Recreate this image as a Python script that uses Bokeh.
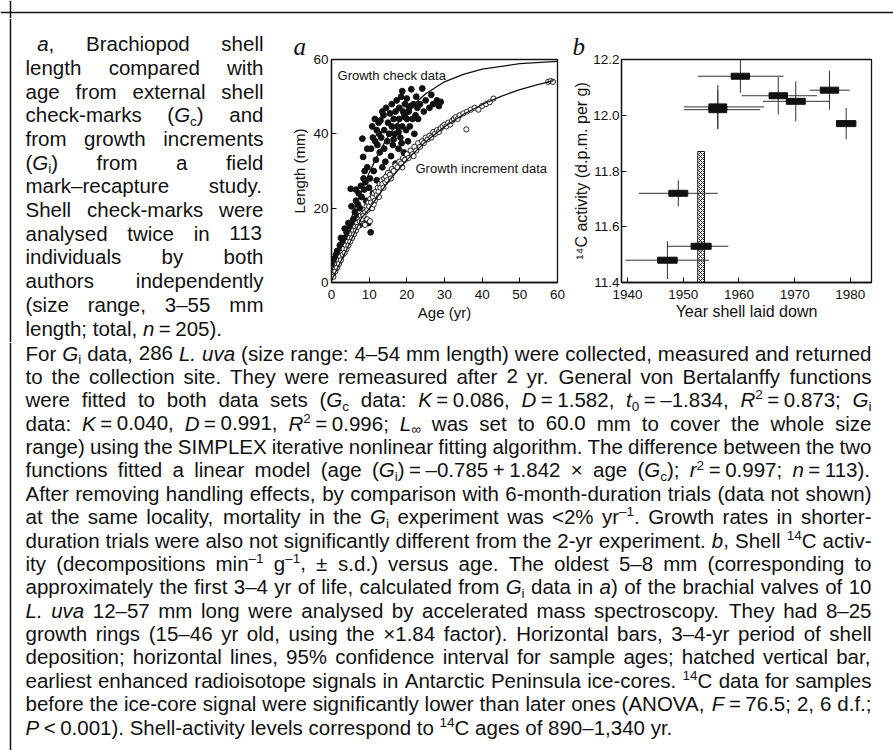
from bokeh.plotting import figure
from bokeh.models import ColumnDataSource, Range1d, FixedTicker, Span, PrintfTickFormatter
from bokeh.layouts import column, row
from bokeh.embed import file_html
from bokeh.resources import INLINE
from bokeh.core.properties import value

FONT = "Liberation Sans"
SERIF = "Liberation Serif"

# ---------------- data: panel a ----------------
gc_age = [0.3, 0.5, 0.5, 0.8, 1.0, 1.0, 1.2, 1.5, 0.2, 1.8, 2.0, 2.2, 2.5, 2.8, 3.0, 3.2, 3.5, 3.8, 4.0, 4.2,
          4.5, 4.8, 5.0, 5.1, 5.3, 5.5, 5.8, 6.0, 6.2, 6.5, 6.8, 7.0, 7.2, 7.5, 7.8, 7.5, 8.0, 8.2, 8.4, 8.5,
          8.7, 8.8, 9.0, 9.0, 9.2, 9.5, 9.8, 10.0, 10.0, 10.4, 10.2, 10.5, 10.8, 11.0, 11.0, 11.2, 11.5, 11.8, 12.0, 12.0,
          12.2, 12.5, 12.8, 13.0, 13.2, 13.5, 13.8, 14.0, 14.0, 14.3, 14.5, 14.8, 15.0, 15.0, 15.3, 15.5, 15.8, 16.0, 16.0, 16.3,
          16.5, 16.8, 17.0, 17.0, 17.3, 17.5, 17.8, 18.0, 18.0, 18.3, 18.5, 18.8, 18.8, 19.0, 19.2, 19.5, 19.8, 20.0, 20.0, 20.3,
          20.5, 20.8, 21.0, 21.2, 21.5, 21.8, 22.0, 22.3, 22.5, 22.8, 23.0, 23.5, 24.1, 24.5, 25.0, 26.0, 27.0, 28.0, 29.0, 28.5,
          26.5, 1.5, 2.5, 3.5, 6.5, 9.5, 13.5, 16.5, 19.5, 17.8, 18.6, 19.4, 20.6, 11.6, 12.6]
gc_len = [2.0, 4.0, 5.5, 6.5, 3.5, 5.0, 7.5, 4.5, 6.0, 6.0, 8.0, 10.0, 7.0, 9.0, 11.0, 10.5, 12.0, 9.0, 13.5, 11.0,
          16.0, 12.5, 15.0, 25.2, 20.5, 14.0, 17.0, 16.0, 19.0, 22.0, 18.0, 21.0, 24.0, 20.0, 26.0, 15.5, 23.0, 38.7, 33.8, 28.0,
          25.0, 30.0, 27.0, 17.0, 22.0, 31.0, 16.0, 20.0, 25.5, 13.5, 28.0, 36.0, 42.0, 39.0, 24.0, 30.0, 44.0, 33.0, 41.0, 27.5,
          37.0, 43.0, 35.0, 43.6, 39.0, 31.0, 45.0, 41.0, 36.0, 32.5, 47.0, 38.0, 43.0, 29.0, 40.0, 45.5, 34.0, 42.0, 48.0, 37.0,
          44.0, 40.0, 46.0, 32.0, 49.0, 42.0, 36.0, 47.0, 44.0, 39.0, 50.0, 51.5, 42.0, 46.0, 35.0, 48.0, 41.0, 44.0, 49.5, 38.0,
          46.0, 42.0, 47.5, 52.0, 44.0, 48.0, 40.0, 45.0, 50.0, 47.0, 44.0, 48.0, 52.2, 46.0, 49.0, 47.0, 48.0, 49.0, 48.6, 47.5,
          50.5, 8.5, 12.0, 14.5, 25.0, 36.0, 46.0, 38.5, 44.5, 40.5, 37.5, 45.0, 47.0, 38.0, 40.0]

gi_age = [0.0, 0.3, 0.5, 0.8, 1.0, 1.2, 1.5, 1.8, 2.0, 2.3, 2.5, 2.8, 3.0, 3.2, 3.5, 3.8, 4.0, 4.3, 4.5, 4.8,
          5.0, 5.3, 5.5, 5.8, 6.0, 6.3, 6.5, 6.8, 7.0, 7.3, 7.5, 7.8, 8.0, 8.3, 8.5, 8.8, 9.0, 9.3, 9.5, 9.8,
          10.0, 10.3, 10.5, 10.8, 11.0, 11.3, 11.5, 11.8, 12.0, 12.3, 12.5, 12.8, 13.0, 13.3, 13.5, 13.8, 14.0, 14.3, 14.5, 14.8,
          15.0, 15.5, 16.0, 16.5, 17.0, 17.5, 18.0, 18.5, 19.0, 19.5, 20.0, 20.5, 21.0, 21.5, 22.0, 22.5, 23.0, 23.5, 24.0, 24.5,
          25.0, 25.5, 26.0, 26.5, 27.0, 27.5, 28.0, 28.5, 29.0, 29.5, 30.0, 30.5, 31.0, 31.5, 32.0, 32.5, 33.0, 33.5, 34.0, 35.0,
          35.8, 36.0, 37.0, 38.0, 39.0, 40.0, 41.0, 42.0, 43.0, 57.5, 58.2, 58.8, 9.5, 10.2, 8.9, 11.2, 12.6, 15.8, 18.8, 21.8]
gi_len = [2.0, 3.5, 1.5, 4.0, 3.0, 5.0, 4.0, 6.0, 5.0, 7.0, 6.0, 8.0, 7.5, 9.0, 8.0, 10.0, 9.0, 11.0, 10.0, 12.0,
          11.0, 13.0, 12.0, 14.0, 13.0, 15.0, 14.0, 16.0, 15.0, 17.0, 16.5, 18.0, 17.0, 18.5, 18.0, 19.5, 19.0, 20.5, 19.5, 21.5,
          20.5, 22.5, 21.5, 20.0, 23.0, 24.0, 22.0, 24.5, 23.5, 25.5, 24.5, 26.5, 25.5, 27.5, 26.5, 25.5, 28.0, 27.0, 28.5, 27.5,
          29.5, 29.0, 30.5, 30.0, 31.5, 31.0, 32.5, 32.0, 33.5, 33.0, 34.5, 33.5, 35.5, 34.5, 36.5, 35.5, 37.5, 36.5, 38.0, 37.5,
          39.0, 38.5, 39.5, 39.0, 40.5, 40.0, 41.0, 40.5, 41.5, 42.0, 42.5, 42.0, 43.0, 42.5, 43.5, 44.0, 44.5, 44.0, 45.0, 45.5,
          41.2, 46.0, 46.5, 47.0, 46.5, 47.5, 48.0, 48.5, 49.5, 54.0, 54.2, 54.0, 17.0, 16.5, 15.5, 21.0, 23.0, 28.0, 31.0, 34.0]

gc_fit_age = [0, 2, 4, 6, 8, 10, 12, 15, 20, 25, 30, 35, 40, 50, 60]
gc_fit_len = [3.0, 8.0, 13.8, 19.4, 24.7, 29.5, 33.8, 39.3, 46.2, 50.8, 54.0, 56.0, 57.4, 58.9, 59.5]
gi_fit_age = [0, 2, 5, 8, 10, 15, 20, 25, 30, 35, 40, 45, 50, 55, 59]
gi_fit_len = [0.5, 4.7, 10.9, 17.4, 19.8, 27.1, 33.0, 37.9, 41.9, 45.2, 47.9, 50.1, 51.9, 53.3, 54.3]

# ---------------- data: panel b ----------------
yr_start = [1945.4, 1947.4, 1951.4, 1954.6, 1954.6, 1958.6, 1965.4, 1968.5, 1974.6, 1977.5]
yr_end   = [1948.9, 1950.8, 1955.0, 1957.8, 1957.8, 1961.9, 1968.7, 1971.9, 1977.9, 1981.0]
act      = [11.48, 11.72, 11.53, 12.03, 12.02, 12.14, 12.07, 12.05, 12.09, 11.97]
act_sd   = [0.068, 0.047, 0.02, 0.078, 0.07, 0.06, 0.067, 0.072, 0.07, 0.056]
ci_lo    = [1939.6, 1942.0, 1947.1, 1950.1, 1950.1, 1952.6, 1960.5, 1964.3, 1972.7, 1977.5]
ci_hi    = [1954.6, 1956.2, 1958.1, 1964.5, 1963.8, 1968.0, 1974.0, 1976.4, 1979.9, 1981.0]
ice_years = [1952.6, 1953.8]
ice_act = [11.4, 11.87]

# ---------------- caption text ----------------
top_lines = [
    "*a*, Brachiopod shell",
    "length compared with",
    "age from external shell",
    "check-marks (*G*_c_) and",
    "from growth increments",
    "(*G*_i_) from a field",
    "mark–recapture study.",
    "Shell check-marks were",
    "analysed twice in 113",
    "individuals by both",
    "authors independently",
    "(size range, 3–55 mm",
    "length; total, *n*~=~205).",
]
bottom_lines = [
    "For *G*_i_ data, 286 *L. uva* (size range: 4–54 mm length) were collected, measured and returned",
    "to the collection site. They were remeasured after 2 yr. General von Bertalanffy functions",
    "were fitted to both data sets (*G*_c_ data: *K*~=~0.086, *D*~=~1.582, *t*_0_~=~–1.834, *R*^2^~=~0.873; *G*_i_",
    "data: *K*~=~0.040, *D*~=~0.991, *R*^2^~=~0.996; *L*_∞_ was set to 60.0 mm to cover the whole size",
    "range) using the SIMPLEX iterative nonlinear fitting algorithm. The difference between the two",
    "functions fitted a linear model (age (*G*_i_)~=~–0.785~+~1.842 × age (*G*_c_); *r*^2^~=~0.997; *n*~=~113).",
    "After removing handling effects, by comparison with 6-month-duration trials (data not shown)",
    "at the same locality, mortality in the *G*_i_ experiment was <2% yr^–1^. Growth rates in shorter-",
    "duration trials were also not significantly different from the 2-yr experiment. *b*, Shell ^14^C activ-",
    "ity (decompositions min^–1^ g^–1^, ± s.d.) versus age. The oldest 5–8 mm (corresponding to",
    "approximately the first 3–4 yr of life, calculated from *G*_i_ data in *a*) of the brachial valves of 10",
    "*L. uva* 12–57 mm long were analysed by accelerated mass spectroscopy. They had 8–25",
    "growth rings (15–46 yr old, using the ×1.84 factor). Horizontal bars, 3–4-yr period of shell",
    "deposition; horizontal lines, 95% confidence interval for sample ages; hatched vertical bar,",
    "earliest enhanced radioisotope signals in Antarctic Peninsula ice-cores. ^14^C data for samples",
    "before the ice-core signal were significantly lower than later ones (ANOVA, *F*~=~76.5; 2, 6 d.f.;",
    "*P*~<~0.001). Shell-activity levels correspond to ^14^C ages of 890–1,340 yr.",
]

# ---------------- text layout helpers (Arial/Liberation metrics) ----------------
HW = {}
for c, w in zip(" !\"#$%&'()*+,-./", [278, 278, 355, 556, 556, 889, 667, 191, 333, 333, 389, 584, 278, 333, 278, 278]):
    HW[c] = w
for c in "0123456789":
    HW[c] = 556
for c, w in zip(":;<=>?@", [278, 278, 584, 584, 584, 556, 1015]):
    HW[c] = w
HW.update(dict(A=667, B=667, C=722, D=722, E=667, F=611, G=778, H=722, I=278, J=500, K=667, L=556, M=833,
               N=722, O=778, P=667, Q=778, R=722, S=667, T=611, U=722, V=667, W=944, X=667, Y=667, Z=611))
HW.update(dict(a=556, b=556, c=500, d=556, e=556, f=278, g=556, h=556, i=222, j=222, k=500, l=222, m=833,
               n=556, o=556, p=556, q=556, r=333, s=500, t=278, u=556, v=500, w=722, x=500, y=500, z=500))
HW.update({'–': 556, '—': 1000, '×': 584, '±': 584, '∞': 713, '[': 278, ']': 278})
SMALL = 0.66
FIXSP = 0.22
BASE_FIX = 0.36   # renderer places alphabetic-baseline text about this many em lower


def parse(line):
    tokens, cur, seg = [], [], []
    state = {"it": False, "pos": "n"}

    def flush():
        if seg:
            cur.append(("".join(seg), state["it"], state["pos"]))
            seg.clear()

    for ch in line:
        if ch == "*":
            flush(); state["it"] = not state["it"]
        elif ch == "_":
            flush(); state["pos"] = "n" if state["pos"] == "sub" else "sub"
        elif ch == "^":
            flush(); state["pos"] = "n" if state["pos"] == "sup" else "sup"
        elif ch == "~":
            flush(); cur.append((None, False, "n"))
        elif ch == " ":
            flush()
            if cur:
                tokens.append(cur)
                cur = []
        else:
            seg.append(ch)
    flush()
    if cur:
        tokens.append(cur)
    return tokens


def seg_width(seg, fs):
    txt, it, pos = seg
    if txt is None:
        return FIXSP * fs
    size = fs * (SMALL if pos != "n" else 1.0)
    return sum(HW.get(c, 556) for c in txt) / 1000.0 * size


def tok_width(tok, fs):
    return sum(seg_width(s, fs) for s in tok)


def layout_block(lines, x0, x1, y0, dy, fs, indent_first=0.0, justify_last=False):
    runs = []
    n = len(lines)
    for li, line in enumerate(lines):
        toks = parse(line)
        widths = [tok_width(t, fs) for t in toks]
        xs = x0 + (indent_first if li == 0 else 0.0)
        just = (li < n - 1) or justify_last
        if just and len(toks) > 1:
            gap = (x1 - xs - sum(widths)) / (len(toks) - 1)
        else:
            gap = 0.278 * fs
        x = xs
        yb = y0 + li * dy
        for t, w in zip(toks, widths):
            xx = x
            for s in t:
                sw = seg_width(s, fs)
                txt, it, pos = s
                if txt is not None:
                    if pos == "n":
                        runs.append((xx, yb, txt, fs, it))
                    elif pos == "sub":
                        runs.append((xx, yb + 0.2 * fs, txt, fs * SMALL, it))
                    else:
                        runs.append((xx, yb - 0.36 * fs, txt, fs * SMALL, it))
                xx += sw
            x += w + gap
    return runs


def best_size(lines, width, squeeze=0.85):
    best = 99.0
    for line in lines[:-1]:
        toks = parse(line)
        words = sum(tok_width(t, 1.0) for t in toks)
        spaces = (len(toks) - 1) * 0.278 * squeeze
        best = min(best, width / (words + spaces))
    return best


def draw_runs(p, runs):
    groups = {}
    for (x, y, t, size, it) in runs:
        groups.setdefault((round(size, 2), it), []).append((x, y - BASE_FIX * size, t))
    for (size, it), items in groups.items():
        src = ColumnDataSource(dict(x=[i[0] for i in items], y=[i[1] for i in items], t=[i[2] for i in items]))
        p.text(x="x", y="y", text="t", source=src, text_font=value(FONT),
               text_font_size=value(f"{size}px"), text_font_style="italic" if it else "normal",
               text_baseline="alphabetic", text_align="left", text_color="#111111")


def no_align(p):
    try:
        p.frame_align = False
    except Exception:
        pass


def text_fig(w, h):
    p = figure(width=w, height=h, x_range=Range1d(0, w), y_range=Range1d(h, 0),
               output_backend="svg", toolbar_location=None,
               x_axis_location=None, y_axis_location=None, min_border=0)
    p.grid.visible = False
    p.outline_line_color = None
    p.background_fill_color = "white"
    p.border_fill_color = "white"
    no_align(p)
    return p


PAGE_W = 893
ROW_H = 324
X0, X1_TOP, X1_BOT = 25, 263, 871
fs = min(20.5, best_size(bottom_lines, X1_BOT - X0))

strip = text_fig(PAGE_W, 18)
strip.add_layout(Span(location=12, dimension="width", line_color="#111111", line_width=1.5))
strip.add_layout(Span(location=10, dimension="height", line_color="#111111", line_width=1.5))

left = text_fig(270, ROW_H)
left.add_layout(Span(location=10, dimension="height", line_color="#111111", line_width=1.5))
draw_runs(left, layout_block(top_lines, X0, X1_TOP, 32.5, 23.7, fs, indent_first=11.7))

bottom = text_fig(PAGE_W, 750 - 18 - ROW_H)
bottom.add_layout(Span(location=10, dimension="height", line_color="#111111", line_width=1.5))
draw_runs(bottom, layout_block(bottom_lines, X0, X1_BOT, 18, 23.375, fs))


def style_axes(p, tick_size="13.5px", label_size="15px"):
    no_align(p)
    p.grid.visible = False
    p.outline_line_color = "#111111"
    p.outline_line_width = 1.3
    p.background_fill_color = "white"
    p.border_fill_color = "white"
    for ax in (p.xaxis, p.yaxis):
        ax.axis_line_color = "#111111"
        ax.axis_line_width = 1.3
        ax.major_tick_in = 5
        ax.major_tick_out = 0
        ax.minor_tick_line_color = None
        ax.major_tick_line_color = "#111111"
        ax.major_label_text_font = FONT
        ax.major_label_text_font_size = tick_size
        ax.major_label_text_color = "#111111"
        ax.axis_label_text_font = FONT
        ax.axis_label_text_font_size = label_size
        ax.axis_label_text_font_style = "normal"
        ax.axis_label_text_color = "#111111"
    p.title.text_font = SERIF
    p.title.text_font_style = "italic"
    p.title.text_font_size = "25px"
    p.title.align = "left"
    p.title.standoff = 0
    p.title.text_color = "#111111"


# ---------------- panel a ----------------
pa = figure(width=300, height=ROW_H, x_range=Range1d(0, 60), y_range=Range1d(0, 60),
            output_backend="svg", toolbar_location=None, title="a",
            min_border_left=61, min_border_right=13, min_border_top=41, min_border_bottom=60)
style_axes(pa, label_size="15px")
pa.title.offset = -38
pa.xaxis.ticker = FixedTicker(ticks=[0, 10, 20, 30, 40, 50, 60])
pa.yaxis.ticker = FixedTicker(ticks=[0, 20, 40, 60])
pa.xaxis.axis_label = "Age (yr)"
pa.yaxis.axis_label = "Length (mm)"
pa.xaxis.major_label_standoff = 7
pa.xaxis.axis_label_standoff = 2
pa.yaxis.major_label_standoff = 3
pa.yaxis.axis_label_standoff = 2

pa.scatter(gc_age, gc_len, marker="circle", size=5.8, fill_color="#111111", line_color="#111111")
pa.scatter(gi_age, gi_len, marker="circle", size=5.2, fill_color="white", line_color="#111111", line_width=0.9)
pa.line(gc_fit_age, gc_fit_len, line_color="#111111", line_width=1.3)
pa.line(gi_fit_age, gi_fit_len, line_color="#111111", line_width=1.3)
pa.text(x=[1.6], y=[55.7], text=["Growth check data"], text_font=value(FONT), text_font_size=value("13px"),
        text_baseline="middle", text_align="left", text_color="#111111")
pa.text(x=[22.3], y=[30.7], text=["Growth increment data"], text_font=value(FONT), text_font_size=value("13px"),
        text_baseline="middle", text_align="left", text_color="#111111")

# ---------------- panel b ----------------
pb = figure(width=PAGE_W - 570, height=ROW_H, x_range=Range1d(1938.9, 1983.8), y_range=Range1d(11.4, 12.2),
            output_backend="svg", toolbar_location=None, title="b",
            min_border_left=51, min_border_right=22, min_border_top=41, min_border_bottom=60)
style_axes(pb, label_size="16px")
pb.title.offset = -49
pb.xaxis.ticker = FixedTicker(ticks=[1940, 1950, 1960, 1970, 1980])
pb.yaxis.ticker = FixedTicker(ticks=[11.4, 11.6, 11.8, 12.0, 12.2])
pb.yaxis.formatter = PrintfTickFormatter(format="%.1f")
pb.xaxis.axis_label = "Year shell laid down"
pb.yaxis.axis_label = "¹⁴C activity (d.p.m. per g)"
pb.xaxis.major_label_standoff = 7
pb.xaxis.axis_label_standoff = 1
pb.yaxis.major_label_standoff = 2
pb.yaxis.axis_label_standoff = 0

pb.quad(left=[ice_years[0]], right=[ice_years[1]], bottom=[ice_act[0]], top=[ice_act[1]],
        fill_color="white", line_color="#111111", line_width=1,
        hatch_pattern="diagonal_cross", hatch_color="#111111", hatch_scale=4, hatch_weight=0.9)
mid = [(a + b) / 2 for a, b in zip(yr_start, yr_end)]
span_w = [b - a for a, b in zip(yr_start, yr_end)]
pb.segment(x0=ci_lo, y0=act, x1=ci_hi, y1=act, line_color="#333333", line_width=1)
pb.segment(x0=mid, y0=[a - s for a, s in zip(act, act_sd)], x1=mid, y1=[a + s for a, s in zip(act, act_sd)],
           line_color="#333333", line_width=1)
pb.rect(x=mid, y=act, width=span_w, height=6, height_units="screen",
        fill_color="#111111", line_color="#111111")

layout = column(strip, row(left, pa, pb), bottom)
open("out.html", "w").write(file_html(layout, INLINE))
